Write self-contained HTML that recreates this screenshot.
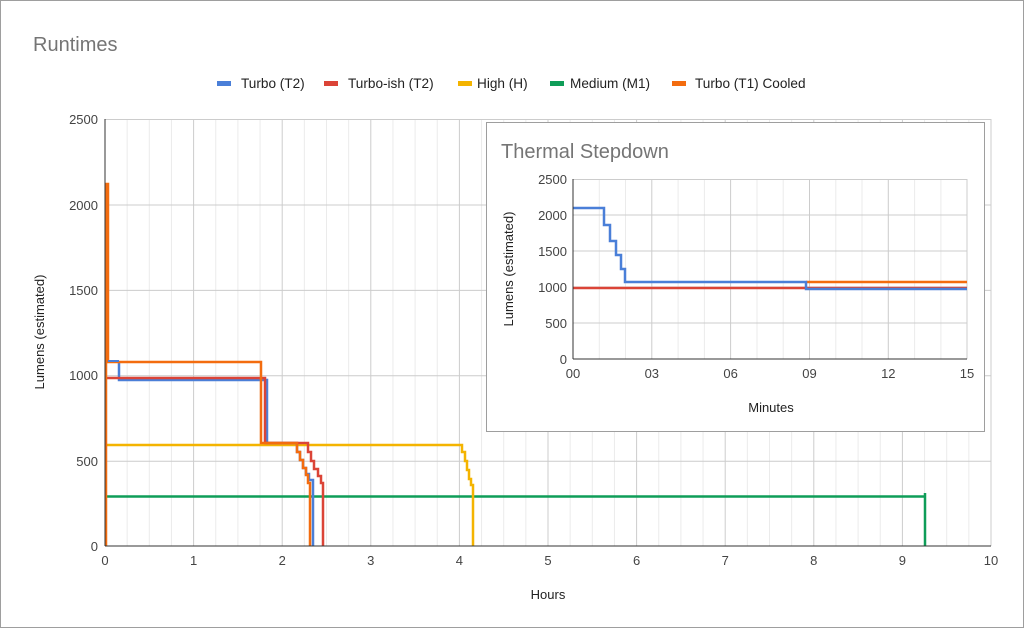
<!DOCTYPE html>
<html><head><meta charset="utf-8"><style>
html,body{margin:0;padding:0;background:#fff}
svg{display:block;font-family:"Liberation Sans",Arial,sans-serif}
</style></head><body>
<svg width="1024" height="628" viewBox="0 0 1024 628" xmlns="http://www.w3.org/2000/svg">
<rect x="0.5" y="0.5" width="1023" height="627" fill="#fff" stroke="#9e9e9e"/>
<text x="33" y="51" font-size="20" fill="#757575">Runtimes</text>
<g font-size="13.6" fill="#222">
<rect x="217" y="81" width="14" height="5" fill="#4a7fd8"/><text x="241" y="88">Turbo (T2)</text>
<rect x="324" y="81" width="14" height="5" fill="#db4437"/><text x="348" y="88">Turbo-ish (T2)</text>
<rect x="458" y="81" width="14" height="5" fill="#f4b400"/><text x="477" y="88">High (H)</text>
<rect x="550" y="81" width="14" height="5" fill="#0f9d58"/><text x="570" y="88">Medium (M1)</text>
<rect x="672" y="81" width="14" height="5" fill="#f36c0f"/><text x="695" y="88">Turbo (T1) Cooled</text>
</g>
<!-- main grid -->
<g stroke="#ebebeb" stroke-width="1">
<path d="M127.15 119V546M149.3 119V546M171.45 119V546M215.75 119V546M237.9 119V546M260.05 119V546M304.35 119V546M326.5 119V546M348.65 119V546M392.95 119V546M415.1 119V546M437.25 119V546M481.55 119V546M503.7 119V546M525.85 119V546M570.15 119V546M592.3 119V546M614.45 119V546M658.75 119V546M680.9 119V546M703.05 119V546M747.35 119V546M769.5 119V546M791.65 119V546M835.95 119V546M858.1 119V546M880.25 119V546M924.55 119V546M946.7 119V546M968.85 119V546"/>
</g>
<g stroke="#cccccc" stroke-width="1">
<path d="M193.6 119V546M282.2 119V546M370.8 119V546M459.4 119V546M548 119V546M636.6 119V546M725.2 119V546M813.8 119V546M902.4 119V546M991 119V546"/>
<path d="M105 119.5H991M105 205H991M105 290.4H991M105 375.8H991M105 461.2H991"/>
</g>
<g font-size="13" fill="#444" text-anchor="end">
<text x="98" y="124">2500</text><text x="98" y="210">2000</text><text x="98" y="295">1500</text><text x="98" y="380">1000</text><text x="98" y="466">500</text><text x="98" y="551">0</text>
</g>
<g font-size="13" fill="#444" text-anchor="middle">
<text x="105" y="565">0</text><text x="193.6" y="565">1</text><text x="282.2" y="565">2</text><text x="370.8" y="565">3</text><text x="459.4" y="565">4</text><text x="548" y="565">5</text><text x="636.6" y="565">6</text><text x="725.2" y="565">7</text><text x="813.8" y="565">8</text><text x="902.4" y="565">9</text><text x="991" y="565">10</text>
<text x="548" y="599" fill="#222">Hours</text>
</g>
<text transform="translate(44,332) rotate(-90)" font-size="13" fill="#222" text-anchor="middle">Lumens (estimated)</text>
<g fill="none" stroke-width="2.5" stroke-linejoin="miter">
<path stroke="#0f9d58" d="M105 496.5H925V493V546"/>
<path stroke="#f4b400" d="M105 445H462V452H465V461H467V470H469V479H471V485H473V546"/>
<path stroke="#4a7fd8" d="M119 361V380H267V443H297V452H300V460H303V468H306V474H309V480H313V546"/>
<path stroke="#db4437" d="M105 378H265V443H308V452H311V461H314V469H318V476H321V483H323V546"/>
<path stroke="#f36c0f" d="M106 546V184H108V362H261V443H297V452H300V460H303V468H306V475H308V483H310V546"/>
<path stroke="#4a7fd8" stroke-width="2" d="M108 361H119"/>
</g>
<line x1="105" y1="119" x2="105" y2="546" stroke="#333"/>
<line x1="105" y1="546" x2="991" y2="546" stroke="#333"/>
<!-- inset -->
<rect x="486.5" y="122.5" width="498" height="309" fill="#fff" stroke="#9e9e9e"/>
<text x="501" y="158" font-size="20" fill="#757575">Thermal Stepdown</text>
<g stroke="#ebebeb">
<path d="M599.3 179V359M625.5 179V359M678.1 179V359M704.4 179V359M757 179V359M783.2 179V359M835.8 179V359M862 179V359M914.6 179V359M940.9 179V359"/>
</g>
<g stroke="#cccccc">
<path d="M651.8 179V359M730.6 179V359M809.5 179V359M888.3 179V359M967 179V359"/>
<path d="M573 179.5H967M573 215H967M573 251H967M573 287H967M573 323H967"/>
</g>
<g font-size="13" fill="#444" text-anchor="end">
<text x="567" y="184">2500</text><text x="567" y="220">2000</text><text x="567" y="256">1500</text><text x="567" y="292">1000</text><text x="567" y="328">500</text><text x="567" y="364">0</text>
</g>
<g font-size="13" fill="#444" text-anchor="middle">
<text x="573" y="378">00</text><text x="651.8" y="378">03</text><text x="730.6" y="378">06</text><text x="809.5" y="378">09</text><text x="888.3" y="378">12</text><text x="967" y="378">15</text>
<text x="771" y="412" fill="#222">Minutes</text>
</g>
<text transform="translate(513,269) rotate(-90)" font-size="13" fill="#222" text-anchor="middle">Lumens (estimated)</text>
<g fill="none" stroke-width="2.5">
<path stroke="#db4437" d="M573 288H967"/>
<path stroke="#f36c0f" d="M806 282H967"/>
<path stroke="#4a7fd8" d="M573 208H604V225H610V241H616V255H621V269H625V282H806V289H967"/>
</g>
<line x1="573" y1="179" x2="573" y2="359" stroke="#333"/>
<line x1="573" y1="359" x2="967" y2="359" stroke="#333"/>
</svg>
</body></html>
